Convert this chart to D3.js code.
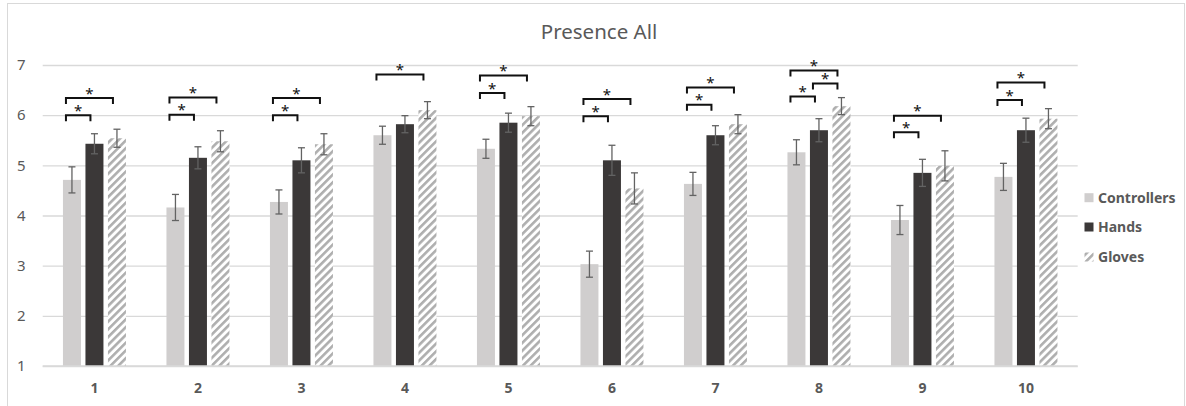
<!DOCTYPE html>
<html>
<head>
<meta charset="utf-8">
<script src="https://cdn.jsdelivr.net/npm/d3@7"></script>
<style>
  html, body { margin: 0; padding: 0; background: #fff; }
  svg { display: block; }
</style>
</head>
<body>
<svg id="chart" width="1186" height="406"></svg>
<script>
// Presence ratings per question (1–10), mean and standard error by condition
const categories = ["1", "2", "3", "4", "5", "6", "7", "8", "9", "10"];
const seriesNames = ["Controllers", "Hands", "Gloves"];

const controllers    = [4.71, 4.16, 4.27, 5.60, 5.33, 3.03, 4.63, 5.26, 3.91, 4.77];
const controllersErr = [0.26, 0.26, 0.24, 0.18, 0.19, 0.26, 0.23, 0.25, 0.29, 0.27];
const hands          = [5.43, 5.15, 5.10, 5.82, 5.85, 5.10, 5.60, 5.70, 4.85, 5.70];
const handsErr       = [0.20, 0.22, 0.25, 0.17, 0.19, 0.30, 0.19, 0.23, 0.27, 0.24];
const gloves         = [5.54, 5.48, 5.42, 6.10, 5.98, 4.54, 5.82, 6.18, 4.99, 5.93];
const glovesErr      = [0.18, 0.21, 0.21, 0.17, 0.19, 0.31, 0.19, 0.17, 0.30, 0.20];

const yTicks = [1, 2, 3, 4, 5, 6, 7];

// Significant pairwise differences: [question index, from series, to series, bracket level]
const brackets = [
  [0, 0, 1, 6.00], [0, 0, 2, 6.34],
  [1, 0, 1, 6.01], [1, 0, 2, 6.35],
  [2, 0, 1, 6.00], [2, 0, 2, 6.34],
  [3, 0, 2, 6.81],
  [4, 0, 1, 6.44], [4, 0, 2, 6.79],
  [5, 0, 1, 5.98], [5, 0, 2, 6.32],
  [6, 0, 1, 6.21], [6, 0, 2, 6.55],
  [7, 0, 1, 6.37], [7, 1, 2, 6.63], [7, 0, 2, 6.89],
  [8, 0, 1, 5.66], [8, 0, 2, 5.99],
  [9, 0, 1, 6.30], [9, 0, 2, 6.65]
];

const values = [controllers, hands, gloves];
const errors = [controllersErr, handsErr, glovesErr];

const rows = [];
categories.forEach((c, i) => {
  seriesNames.forEach((s, j) => {
    rows.push({ cat: c, series: s, si: j, value: values[j][i], err: errors[j][i] });
  });
});

const svg = d3.select("#chart");
const font = "'Noto Sans', 'Open Sans', sans-serif";
const textGray = "#595959";

// Hatched fill for the Gloves series
const defs = svg.append("defs");
const pat = defs.append("pattern")
  .attr("id", "hatch")
  .attr("patternUnits", "userSpaceOnUse")
  .attr("width", 5.5).attr("height", 5.5)
  .attr("patternTransform", "rotate(45)");
pat.append("rect").attr("width", 5.5).attr("height", 5.5).attr("fill", "#ffffff");
pat.append("rect").attr("width", 2.6).attr("height", 5.5).attr("fill", "#aeaeae");

const fills = { Controllers: "#d0cece", Hands: "#3b3838", Gloves: "url(#hatch)" };

// Chart frame
svg.append("rect")
  .attr("x", 7.5).attr("y", 3.5)
  .attr("width", 1177).attr("height", 420)
  .attr("fill", "none").attr("stroke", "#d9d9d9").attr("stroke-width", 1);

// Title
svg.append("text")
  .attr("x", 599).attr("y", 38.5)
  .attr("text-anchor", "middle")
  .attr("font-family", font).attr("font-size", 20.5)
  .attr("fill", textGray)
  .text("Presence All");

const plotLeft = 42.7, plotRight = 1077.7;
const y = d3.scaleLinear().domain([1, 7]).range([366, 65]);
const x0 = d3.scaleBand().domain(categories).range([plotLeft, plotRight]).paddingInner(0).paddingOuter(0);
const gw = x0.bandwidth();
const x1 = d3.scaleBand().domain(seriesNames)
  .range([gw / 2 - 33.75, gw / 2 + 33.75])
  .paddingInner(0.2).paddingOuter(0.1);

// Gridlines
const yAxis = d3.axisLeft(y).tickValues(yTicks).tickSize(-(plotRight - plotLeft)).tickPadding(17).tickFormat(d3.format("d"));
const yg = svg.append("g").attr("transform", `translate(${plotLeft},0)`).call(yAxis);
yg.select(".domain").remove();
yg.selectAll(".tick line").attr("stroke", "#d9d9d9").attr("stroke-width", 1.3);
yg.selectAll(".tick text")
  .attr("font-family", font).attr("font-size", 15).attr("fill", textGray);

// Bars
const barX = d => x0(d.cat) + x1(d.series);
const gBars = svg.append("g");
gBars.selectAll("rect").data(rows).join("rect")
  .attr("x", barX)
  .attr("y", d => y(d.value))
  .attr("width", x1.bandwidth())
  .attr("height", d => y(1) - y(d.value))
  .attr("fill", d => fills[d.series]);

// Baseline on top of bars
svg.append("line")
  .attr("x1", plotLeft).attr("x2", plotRight)
  .attr("y1", y(1)).attr("y2", y(1))
  .attr("stroke", "#d9d9d9").attr("stroke-width", 1.5);

// Error bars
const eb = svg.append("g").attr("stroke", "#636363").attr("stroke-width", 1.3).attr("fill", "none");
rows.forEach(d => {
  const cx = barX(d) + x1.bandwidth() / 2;
  const yt = y(d.value + d.err), yb = y(d.value - d.err);
  eb.append("line").attr("x1", cx).attr("x2", cx).attr("y1", yt).attr("y2", yb);
  eb.append("line").attr("x1", cx - 3.5).attr("x2", cx + 3.5).attr("y1", yt).attr("y2", yt);
  eb.append("line").attr("x1", cx - 3.5).attr("x2", cx + 3.5).attr("y1", yb).attr("y2", yb);
});

// Significance brackets with stars
const center = (gi, si) => x0(categories[gi]) + x1(seriesNames[si]) + x1.bandwidth() / 2;
const bg = svg.append("g");
brackets.forEach(([gi, a, b, lvl]) => {
  const xa = center(gi, a) - 6, xb = center(gi, b) - 4;
  const yl = y(lvl);
  bg.append("path")
    .attr("d", `M${xa},${yl + 6}V${yl}H${xb}V${yl + 6}`)
    .attr("fill", "none").attr("stroke", "#111").attr("stroke-width", 2);
  bg.append("text")
    .attr("x", (xa + xb) / 2).attr("y", yl + 0.5)
    .attr("text-anchor", "middle")
    .attr("font-family", font).attr("font-size", 15)
    .attr("fill", "#111")
    .text("*");
});

// Category labels
svg.append("g").selectAll("text").data(categories).join("text")
  .attr("x", d => x0(d) + gw / 2)
  .attr("y", 393)
  .attr("text-anchor", "middle")
  .attr("font-family", font).attr("font-size", 14).attr("font-weight", "bold")
  .attr("fill", textGray)
  .text(d => d);

// Legend
const legend = svg.append("g");
const legendY = [197.7, 227, 257];
seriesNames.forEach((s, i) => {
  legend.append("rect")
    .attr("x", 1084.5).attr("y", legendY[i] - 4.5)
    .attr("width", 9).attr("height", 9)
    .attr("fill", fills[s]);
  legend.append("text")
    .attr("x", 1098).attr("y", legendY[i] + 5)
    .attr("font-family", font).attr("font-size", 14).attr("font-weight", "bold")
    .attr("fill", textGray)
    .text(s);
});
</script>
</body>
</html>
